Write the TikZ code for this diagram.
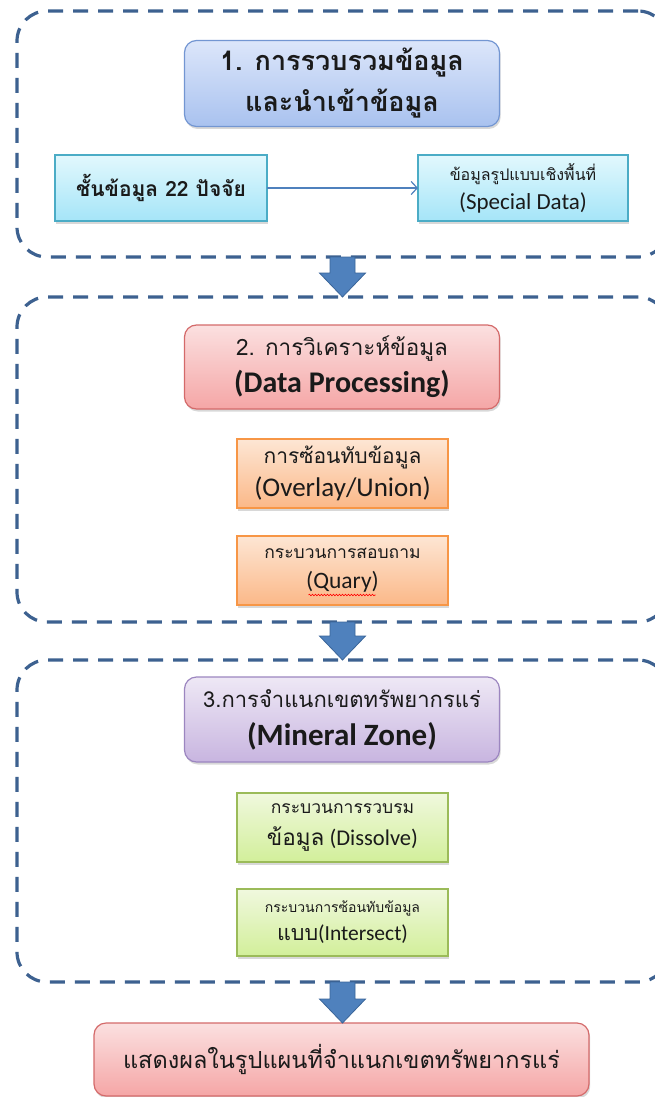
\documentclass[tikz,border=0pt]{standalone}
\usepackage{fontspec}
\setmainfont{Carlito}
\newfontfamily\thai[Script=Thai]{Loma}
\usetikzlibrary{calc,shadows,arrows.meta,decorations.pathmorphing}

\definecolor{dashblue}{HTML}{3D6190}
\definecolor{arrowblue}{HTML}{4F81BD}
\definecolor{arrowedge}{HTML}{3A6599}
\definecolor{blueedge}{HTML}{7396D2}
\definecolor{bluetop}{HTML}{DCE6FA}
\definecolor{bluebot}{HTML}{A9C2EF}
\definecolor{cyanedge}{HTML}{4BACC6}
\definecolor{cyantop}{HTML}{E2F8FD}
\definecolor{cyanbot}{HTML}{A5E5F8}
\definecolor{rededge}{HTML}{D46A6A}
\definecolor{redtop}{HTML}{FBE0E0}
\definecolor{redbot}{HTML}{F5A6A6}
\definecolor{orangeedge}{HTML}{F79646}
\definecolor{orangetop}{HTML}{FDE6D4}
\definecolor{orangebot}{HTML}{FBB888}
\definecolor{purpleedge}{HTML}{9C86C0}
\definecolor{purpletop}{HTML}{EEE8F5}
\definecolor{purplebot}{HTML}{C8B5E0}
\definecolor{greenedge}{HTML}{9BBB59}
\definecolor{greentop}{HTML}{F0F8DE}
\definecolor{greenbot}{HTML}{D2EF9A}
\definecolor{ink}{HTML}{1A1A1A}

\tikzset{
  group/.style={draw=dashblue,line width=3.2pt,dash pattern=on 15pt off 10pt,
    rounded corners=30pt,minimum width=651pt,inner sep=0pt,outer sep=0pt},
  box/.style={line width=1.2pt,align=center,text=ink,inner sep=1pt,outer sep=0pt,
    drop shadow={shadow xshift=1.2pt,shadow yshift=-2.5pt,opacity=0.3}},
  titlebox/.style={box,rounded corners=12pt,minimum width=315pt,minimum height=86pt},
  stepbox/.style={box,minimum width=211pt,minimum height=68pt},
  lines/.style={font=\fontsize{10}{#1}\selectfont},
  blue/.style={draw=blueedge,top color=bluetop,bottom color=bluebot},
  cyan/.style={draw=cyanedge,top color=cyantop,bottom color=cyanbot},
  red/.style={draw=rededge,top color=redtop,bottom color=redbot},
  orange/.style={draw=orangeedge,top color=orangetop,bottom color=orangebot},
  purple/.style={draw=purpleedge,top color=purpletop,bottom color=purplebot},
  green/.style={draw=greenedge,top color=greentop,bottom color=greenbot},
  blockarrow/.style={draw=arrowedge,fill=arrowblue,line width=0.8pt,line join=miter},
  thinarrow/.style={draw=arrowblue,line width=1.2pt,-{Straight Barb[length=6pt,width=13pt]}},
  squiggle/.style={draw=red,line width=0.6pt,decorate,
    decoration={snake,amplitude=0.8pt,segment length=3pt}}
}
\def\groupnode{\node[group]}
% wide down arrow from the bottom of one node to the top of the next
\def\blockarr#1#2{\draw[blockarrow] let \p1=(#1.south), \p2=(#2.north) in
  (\x1-12.5pt,\y1) -- (\x1+12.5pt,\y1) -- (\x1+12.5pt,\y2+24pt) -- (\x1+23pt,\y2+24pt)
  -- (\x1,\y2) -- (\x1-23pt,\y2+24pt) -- (\x1-12.5pt,\y2+24pt) -- cycle;}

\begin{document}
\begin{tikzpicture}[x=1pt,y=-1pt]
\useasboundingbox[fill=white] (0,0) rectangle (655,1097);

\groupnode[minimum height=246pt] (grp1) at (342.5,134) {};
\groupnode[minimum height=325pt] (grp2) at (342.5,459.5) {};
\groupnode[minimum height=322pt] (grp3) at (342.5,821) {};

% 1. import
\node[titlebox,blue,font=\thai\bfseries\fontsize{27}{41}\selectfont] (collect) at (342,83.5)
  {1. การรวบรวมข้อมูล\\และนำเข้าข้อมูล};
\node[stepbox,cyan,minimum width=212pt,minimum height=66pt,font=\thai\bfseries\fontsize{21}{26}\selectfont]
  (layers) at (161,188) {ชั้นข้อมูล 22 ปัจจัย};
\node[stepbox,cyan,minimum width=210pt,minimum height=66pt,lines=29] (spatial) at (523,188)
  {{\thai\fontsize{16}{18}\selectfont ข้อมูลรูปแบบเชิงพื้นที่}\\{\fontsize{23}{24}\selectfont (Special Data)}};
\draw[thinarrow] (layers) -- (spatial);

% 2. processing
\node[titlebox,red,minimum height=84pt,lines=37] (process) at (342,367)
  {{\thai\fontsize{22.5}{26}\selectfont 2. การวิเคราะห์ข้อมูล}\\{\bfseries\fontsize{30}{30}\selectfont (Data Processing)}};
\node[stepbox,orange,minimum height=69pt,lines=33] (overlay) at (342.5,473.5)
  {{\thai\fontsize{21}{22}\selectfont การซ้อนทับข้อมูล}\\{\fontsize{27}{27}\selectfont (Overlay/Union)}};
\node[stepbox,orange,minimum height=69pt,lines=30] (query) at (342.5,570.5)
  {{\thai\fontsize{17.5}{20}\selectfont กระบวนการสอบถาม}\\{\fontsize{23.5}{24}\selectfont (Quary)}};
\draw[squiggle] ([xshift=-34pt,yshift=10pt]query.south) -- ([xshift=33pt,yshift=10pt]query.south);

% 3. zoning
\node[titlebox,purple,minimum height=85pt,lines=38] (zone) at (342,719.5)
  {{\thai\fontsize{22}{24}\selectfont 3.การจำแนกเขตทรัพยากรแร่}\\{\bfseries\fontsize{31}{31}\selectfont (Mineral Zone)}};
\node[stepbox,green,minimum height=69pt,lines=32] (dissolve) at (342.5,827.5)
  {{\thai\fontsize{17.5}{20}\selectfont กระบวนการรวบรม}\\{\fontsize{22.5}{23}\selectfont{\thai ข้อมูล} (Dissolve)}};
\node[stepbox,green,minimum height=67pt,lines=28] (intersect) at (342.5,922.5)
  {{\thai\fontsize{14}{16}\selectfont กระบวนการซ้อนทับข้อมูล}\\{\fontsize{21.5}{22}\selectfont{\thai แบบ}(Intersect)}};

\node[titlebox,red,minimum width=495pt,minimum height=73pt,font=\thai\fontsize{23.5}{26}\selectfont]
  (result) at (341.5,1059.5) {แสดงผลในรูปแผนที่จำแนกเขตทรัพยากรแร่};

\blockarr{grp1}{grp2}
\blockarr{grp2}{grp3}
\blockarr{grp3}{result}
\end{tikzpicture}
\end{document}
